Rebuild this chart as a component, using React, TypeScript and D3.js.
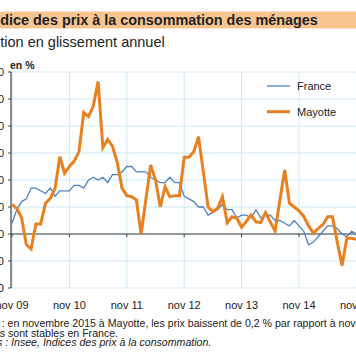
import React from "react";
import * as d3 from "d3";

const months: string[] = Array.from({ length: 73 }, (_, i) => `m${i}`);
const tickLabels = ["nov 09", "nov 10", "nov 11", "nov 12", "nov 13", "nov 14", "nov 15"];
const yTickLabels = ["-2,0", "-1,0", "0,0", "1,0", "2,0", "3,0", "4,0", "5,0", "6,0"];
const yTickValues = [-2, -1, 0, 1, 2, 3, 4, 5, 6];

const france = [
  0.4, 0.9,
  1.2, 1.3, 1.7, 1.7, 1.6, 1.5, 1.7, 1.4, 1.6, 1.6, 1.6, 1.8,
  1.8, 1.7, 2.0, 2.1, 2.0, 2.1, 1.9, 2.2, 2.2, 2.3, 2.5, 2.5,
  2.3, 2.3, 2.3, 2.1, 2.0, 1.9, 1.9, 2.1, 1.9, 1.9, 1.4, 1.3,
  1.2, 1.0, 1.0, 0.7, 0.8, 0.9, 1.1, 0.9, 0.9, 0.6, 0.7, 0.7,
  0.6, 0.9, 0.6, 0.7, 0.7, 0.5, 0.5, 0.4, 0.3, 0.5, 0.3, 0.1,
  -0.4, -0.3, -0.1, 0.1, 0.3, 0.3, 0.2, 0.0, -0.1, 0.1, 0.0,
];

const mayotte = [
  1.1, 0.95,
  0.6, -0.4, -0.55, 0.37, 0.37, 1.14, 1.32, 1.69, 2.86, 2.25, 2.5, 2.7,
  3.05, 4.5, 4.35, 4.75, 5.65, 3.2, 3.5, 3.25, 2.65, 1.7, 1.42, 1.38,
  1.26, 0.0, 1.3, 2.56, 2.0, 1.0, 1.75, 1.38, 1.42, 1.42, 2.84, 2.84,
  3.05, 3.6, 2.3, 1.0, 0.83, 0.95, 1.38, 0.42, 0.64, 0.58, 0.25, 0.47,
  0.7, 0.45, 0.42, 0.79, 0.45, 0.11, 1.25, 2.37, 1.14, 1.0, 0.86, 0.65,
  0.3, 0.03, 0.2, 0.35, 0.64, 0.64, -0.3, -1.17, -0.16, -0.16, -0.2,
];

const series = [
  { name: "France", values: france, color: "#4f81bd", width: 1.3 },
  { name: "Mayotte", values: mayotte, color: "#e8801f", width: 3 },
];

export default function App() {
  const W = 356, H = 364;
  const x = d3.scaleLinear().domain([0, months.length - 1]).range([12, 356.4]);
  const y = d3.scaleLinear().domain([-2, 6]).range([288, 72]);
  const line = (vals: number[]) =>
    d3.line<number>().x((_, i) => x(i)).y((v) => y(v))(vals) || "";
  const xTicks = tickLabels.map((_, i) => i * 12);
  const grid = "#cde8f2";
  const axis = "#404040";
  const font = "Liberation Sans, Arial, sans-serif";
  return (
    <svg width={W} height={H} style={{ position: "absolute", left: 0, top: 0, background: "#fff" }} fontFamily={font}>
      <rect x={0} y={11.5} width={W} height={17} fill="#f7c591" />
      <text x={-12.5} y={25} fontSize={14.4} fontWeight="bold" fill="#222">
        Indice des prix à la consommation des ménages
      </text>
      <text x={-36} y={47} fontSize={14.5} fill="#222">
        Évolution en glissement annuel
      </text>
      <text x={10} y={69} fontSize={10.5} fontWeight="bold" fill="#222">en %</text>
      {yTickValues.map((v) => (
        <line key={"hg" + v} x1={11} x2={W} y1={y(v)} y2={y(v)} stroke={grid} strokeWidth={1} />
      ))}
      {xTicks.map((m) => (
        <line key={"vg" + m} x1={x(m)} x2={x(m)} y1={72} y2={288} stroke={grid} strokeWidth={1} />
      ))}
      <line x1={11} x2={W} y1={y(0)} y2={y(0)} stroke={axis} strokeWidth={1.2} />
      {xTicks.map((m) => (
        <line key={"xt" + m} x1={x(m)} x2={x(m)} y1={y(0)} y2={y(0) + 3} stroke={axis} strokeWidth={1} />
      ))}
      <line x1={11} x2={11} y1={72} y2={288} stroke={axis} strokeWidth={1.2} />
      {yTickValues.map((v, i) => (
        <g key={"yt" + v}>
          <line x1={8} x2={11} y1={y(v)} y2={y(v)} stroke={axis} strokeWidth={1} />
          <text x={4} y={y(v) + 4} fontSize={11} textAnchor="end" fill="#222">{yTickLabels[i]}</text>
        </g>
      ))}
      {xTicks.map((m, i) => (
        <text key={"xl" + m} x={x(m)} y={309} fontSize={11} textAnchor="middle" fill="#222">{tickLabels[i]}</text>
      ))}
      {series.map((s) => (
        <path key={s.name} d={line(s.values)} fill="none" stroke={s.color} strokeWidth={s.width} strokeLinejoin="miter" />
      ))}
      {series.map((s, i) => (
        <g key={"lg" + s.name}>
          <line x1={267} x2={290} y1={86 + i * 25.7} y2={86 + i * 25.7} stroke={s.color} strokeWidth={s.width} />
          <text x={297} y={90 + i * 25.7} fontSize={11} fill="#222">{s.name}</text>
        </g>
      ))}
      <text x={-36.6} y={327} fontSize={10.6} fill="#222">
        Lecture : en novembre 2015 à Mayotte, les prix baissent de 0,2 % par rapport à novembre 2014 ;
      </text>
      <text x={-5} y={336.5} fontSize={10.6} fill="#222">ils sont stables  en France.</text>
      <text x={-36.6} y={346} fontSize={10.6} fontStyle="italic" fill="#222">
        Sources : Insee, Indices des prix à la consommation.
      </text>
    </svg>
  );
}
